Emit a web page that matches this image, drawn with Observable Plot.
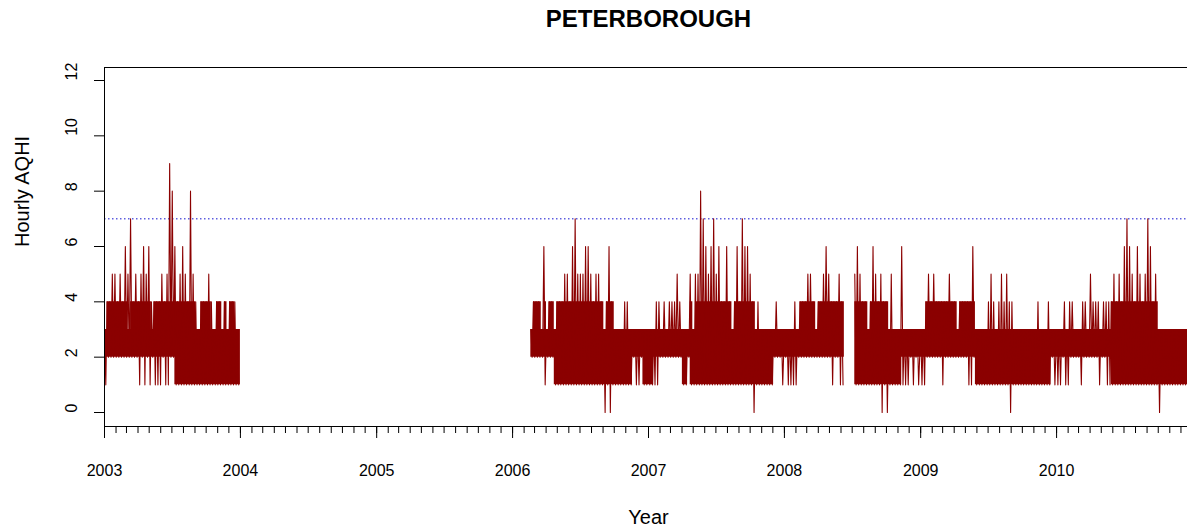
<!DOCTYPE html>
<html>
<head>
<meta charset="utf-8">
<script src="https://cdn.jsdelivr.net/npm/d3@7"></script>
<script src="https://cdn.jsdelivr.net/npm/@observablehq/plot@0.6"></script>
<style>
  html, body { margin: 0; padding: 0; background: #fff; }
  svg { display: block; }
</style>
</head>
<body>
<div id="chart"></div>
<script>
// ---- text ----
const chartTitle = "PETERBOROUGH";
const xLabel = "Year";
const yLabel = "Hourly AQHI";
const yTicks = [0, 2, 4, 6, 8, 10, 12];
const yearTicks = [2003, 2004, 2005, 2006, 2007, 2008, 2009, 2010];
const threshold = 7;

// ---- data, one value per week ----
// max / min = weekly extreme hourly AQHI; top / bottom = edges of the densely filled band
// 2003, weeks 0..51
const max2003 = [3,4,4,5,5,4,5,4,6,5,7,4,5,4,5,6,5,6,4,4,4,4,5,4,5,9,8,6,4,5,6,5,4,8,5,4,3,4,4,4,5,4,3,4,4,3,4,3,4,4,4,3];
const min2003 = [1,2,2,2,2,2,2,2,2,2,2,2,2,1,2,1,2,1,2,1,1,1,2,1,1,2,2,1,1,1,1,1,1,1,1,1,1,1,1,1,1,1,1,1,1,1,1,1,1,1,1,1];
const top2003 = [3,4,4,4,4,4,4,4,4,3,4,4,4,4,4,4,4,4,3,4,4,4,4,4,4,4,4,4,4,4,4,4,4,4,4,3,3,4,4,4,4,3,3,4,4,3,4,3,4,4,3,3];
const bot2003 = [2,2,2,2,2,2,2,2,2,2,2,2,2,2,2,2,2,2,2,2,2,2,2,2,2,2,2,1,1,1,1,1,1,1,1,1,1,1,1,1,1,1,1,1,1,1,1,1,1,1,1,1];
// 2006, weeks 7..51
const max2006 = [3,4,4,4,3,6,3,4,4,3,4,4,4,5,5,4,6,7,5,5,5,6,6,5,4,5,5,4,3,4,6,4,3,3,3,3,4,4,3,3,3,3,3,3,3];
const min2006 = [2,2,2,2,2,1,2,2,2,1,1,1,1,1,1,1,1,1,1,1,1,1,1,1,1,1,1,1,0,1,0,1,1,1,1,1,1,1,1,2,1,1,2,1,1];
const top2006 = [3,4,4,4,3,4,3,4,4,3,4,4,4,4,4,4,4,4,4,4,4,4,4,4,4,4,4,4,3,4,4,4,3,3,3,3,3,3,3,3,3,3,3,3,3];
const bot2006 = [2,2,2,2,2,2,2,2,2,1,1,1,1,1,1,1,1,1,1,1,1,1,1,1,1,1,1,1,1,1,1,1,1,1,1,1,1,1,1,2,2,2,2,1,1];
// 2007, weeks 0..51
const max2007 = [3,3,3,4,4,3,4,3,4,4,4,5,4,3,3,3,5,3,5,5,8,7,6,5,6,7,5,6,4,4,6,4,3,4,6,4,7,6,6,5,4,3,4,3,3,3,3,3,3,4,3,3];
const min2007 = [1,1,1,1,2,2,2,2,2,2,2,2,2,1,1,2,1,1,1,1,1,1,1,1,1,1,1,1,1,1,1,1,1,1,1,1,1,1,1,1,0,1,1,1,1,1,1,1,2,2,2,1];
const top2007 = [3,3,3,3,3,3,3,3,3,3,3,3,3,3,3,3,4,3,4,4,4,4,4,4,4,4,4,4,4,4,4,4,3,4,4,4,4,4,4,4,4,3,3,3,3,3,3,3,3,3,3,3];
const bot2007 = [1,1,2,2,2,2,2,2,2,2,2,2,2,1,1,2,1,1,1,1,1,1,1,1,1,1,1,1,1,1,1,1,1,1,1,1,1,1,1,1,1,1,1,1,1,1,1,1,2,2,2,2];
// 2008, weeks 0..51 (null = no data)
const max2008 = [3,3,3,3,4,3,4,4,4,5,5,4,3,4,4,5,6,5,4,4,4,5,4,null,null,null,null,5,6,5,4,4,3,4,6,5,4,5,4,4,3,5,3,3,3,6,3,3,3,3,3,3];
const min2008 = [2,1,1,1,1,2,2,2,2,2,2,2,2,2,2,2,2,2,1,2,2,1,1,null,null,null,null,1,1,1,1,1,1,1,1,1,1,0,1,0,1,1,1,1,1,1,1,1,2,1,2,1];
const top2008 = [3,3,3,3,3,3,4,4,4,4,4,4,3,4,4,4,4,4,4,4,4,4,4,null,null,null,null,4,4,4,4,4,3,4,4,4,4,4,4,4,3,3,3,3,3,3,3,3,3,3,3,3];
const bot2008 = [2,2,2,2,2,2,2,2,2,2,2,2,2,2,2,2,2,2,2,2,2,2,2,null,null,null,null,1,1,1,1,1,1,1,1,1,1,1,1,1,1,1,1,1,1,2,2,2,2,2,2,2];
// 2009, weeks 0..51
const max2009 = [3,3,4,5,4,5,4,4,4,4,4,5,4,4,3,4,4,4,4,4,6,3,3,3,3,3,4,5,4,3,4,5,4,5,4,4,3,3,3,3,3,3,3,3,3,4,3,3,3,4,3,3];
const min2009 = [1,1,2,2,2,2,2,2,1,2,2,2,2,2,2,2,2,2,1,1,2,1,1,1,1,1,1,1,1,1,1,1,1,1,0,1,1,1,1,1,1,1,1,1,1,1,1,1,1,1,2,1];
const top2009 = [3,3,4,4,4,4,4,4,4,4,4,4,4,4,3,4,4,4,4,4,4,3,3,3,3,3,3,3,3,3,3,3,3,3,3,3,3,3,3,3,3,3,3,3,3,3,3,3,3,3,3,3];
const bot2009 = [2,2,2,2,2,2,2,2,2,2,2,2,2,2,2,2,2,2,2,2,2,1,1,1,1,1,1,1,1,1,1,1,1,1,1,1,1,1,1,1,1,1,1,1,1,1,1,1,1,1,2,2];
// 2010, weeks 0..51
const max2010 = [3,3,3,4,3,4,4,3,3,3,4,4,3,5,4,4,4,3,4,4,4,4,5,4,5,4,6,7,6,5,4,6,5,4,5,7,6,4,5,3,3,3,3,3,3,3,3,3,3,3,3,3];
const min2010 = [1,1,2,1,1,2,2,2,2,1,2,2,2,2,2,2,1,2,2,1,1,1,1,1,1,1,1,1,1,1,1,1,1,1,1,1,1,1,1,0,1,1,1,1,1,1,1,1,1,1,1,1];
const top2010 = [3,3,3,3,3,3,3,3,3,3,3,3,3,3,3,3,3,3,3,3,3,4,4,4,4,4,4,4,4,4,4,4,4,4,4,4,4,4,4,3,3,3,3,3,3,3,3,3,3,3,3,3];
const bot2010 = [2,2,2,2,2,2,2,2,2,2,2,2,2,2,2,2,2,2,2,2,2,1,1,1,1,1,1,1,1,1,1,1,1,1,1,1,1,1,1,1,1,1,1,1,1,1,1,1,1,1,1,1];

const blockYears = [2003, 2006, 2007, 2008, 2009, 2010];
const blockStartWeek = [0, 7, 0, 0, 0, 0];
const blockMax = [max2003, max2006, max2007, max2008, max2009, max2010];
const blockMin = [min2003, min2006, min2007, min2008, min2009, min2010];
const blockTop = [top2003, top2006, top2007, top2008, top2009, top2010];
const blockBot = [bot2003, bot2006, bot2007, bot2008, bot2009, bot2010];

// ---- build tables ----
const DAY = 86400000, WEEK = 7 * DAY;
const lineRows = [];
const bandRows = [];
blockYears.forEach((yr, b) => {
  let prev = null;
  const closeBand = (t) => {
    if (prev) bandRows.push({ t, top: prev.top, bot: prev.bot });
    bandRows.push({ t, top: NaN, bot: NaN });
    prev = null;
  };
  if (b > 0 && blockYears[b - 1] !== yr - 1) {
    lineRows.push({ t: new Date(Date.UTC(blockYears[b - 1] + 1, 0, 1)), v: NaN });
  }
  blockMax[b].forEach((hi, i) => {
    const t0 = new Date(Date.UTC(yr, 0, 1) + (blockStartWeek[b] + i) * WEEK);
    const lo = blockMin[b][i];
    if (hi == null) {
      lineRows.push({ t: t0, v: NaN });
      if (prev) closeBand(t0);
      return;
    }
    lineRows.push({ t: t0, v: hi });
    lineRows.push({ t: new Date(+t0 + WEEK / 2), v: lo });
    prev = { top: blockTop[b][i], bot: blockBot[b][i] };
    bandRows.push({ t: t0, top: prev.top, bot: prev.bot });
  });
  const next = blockYears[b + 1];
  if (next !== yr + 1) closeBand(new Date(Date.UTC(yr + 1, 0, 1)));
});

const yearDate = y => new Date(Date.UTC(y, 0, 1));
const xStart = yearDate(2003), xEnd = yearDate(2011);
const monthTicks = d3.utcMonth.range(xStart, new Date(+xEnd + DAY));
const yearDates = yearTicks.map(yearDate).concat([xEnd]);

const font = "'Liberation Sans', Arial, Helvetica, sans-serif";
const red = "#8b0000";

const chart = Plot.plot({
  width: 1187,
  height: 531,
  marginLeft: 104,
  marginRight: -5,
  marginTop: 67,
  marginBottom: 105,
  x: { type: "utc", domain: [xStart, xEnd] },
  y: { domain: [-0.506, 12.47] },
  style: { fontFamily: font, fontSize: "16px", color: "#000", background: "#fff", overflow: "hidden" },
  marks: [
    Plot.ruleY([threshold], { stroke: "#1010d0", strokeWidth: 1, strokeDasharray: "1.5,2.5" }),
    Plot.areaY(bandRows, { x: "t", y1: "bot", y2: "top", fill: red, curve: "step-after" }),
    Plot.line(lineRows, { x: "t", y: "v", stroke: red, strokeWidth: 1.1, curve: "linear" }),
    Plot.frame({ stroke: "#000", strokeWidth: 1 }),
    Plot.axisY({ ticks: yTicks, tickSize: 10, tickFormat: () => "", label: null }),
    Plot.text(yTicks, { y: d => d, text: d => String(d), frameAnchor: "left", lineAnchor: "middle", dx: -33, rotate: -90, fontSize: 16, fill: "#000" }),
    Plot.axisX({ ticks: monthTicks, tickSize: 7, tickFormat: () => "", label: null }),
    Plot.axisX({ ticks: yearDates, tickSize: 12, tickFormat: () => "", label: null }),
    Plot.text(yearTicks, { x: d => yearDate(d), text: d => String(d), frameAnchor: "bottom", lineAnchor: "middle", dy: 44, fontSize: 16, fill: "#000" }),
    Plot.text([chartTitle], { frameAnchor: "top", lineAnchor: "middle", dy: -48, fontWeight: "bold", fontSize: 24, fill: "#000" }),
    Plot.text([xLabel], { frameAnchor: "bottom", lineAnchor: "middle", dy: 91, fontSize: 20, fill: "#000" }),
    Plot.text([yLabel], { frameAnchor: "left", lineAnchor: "middle", dx: -82, rotate: -90, fontSize: 20, fill: "#000" })
  ]
});
document.getElementById("chart").appendChild(chart);
</script>
</body>
</html>
